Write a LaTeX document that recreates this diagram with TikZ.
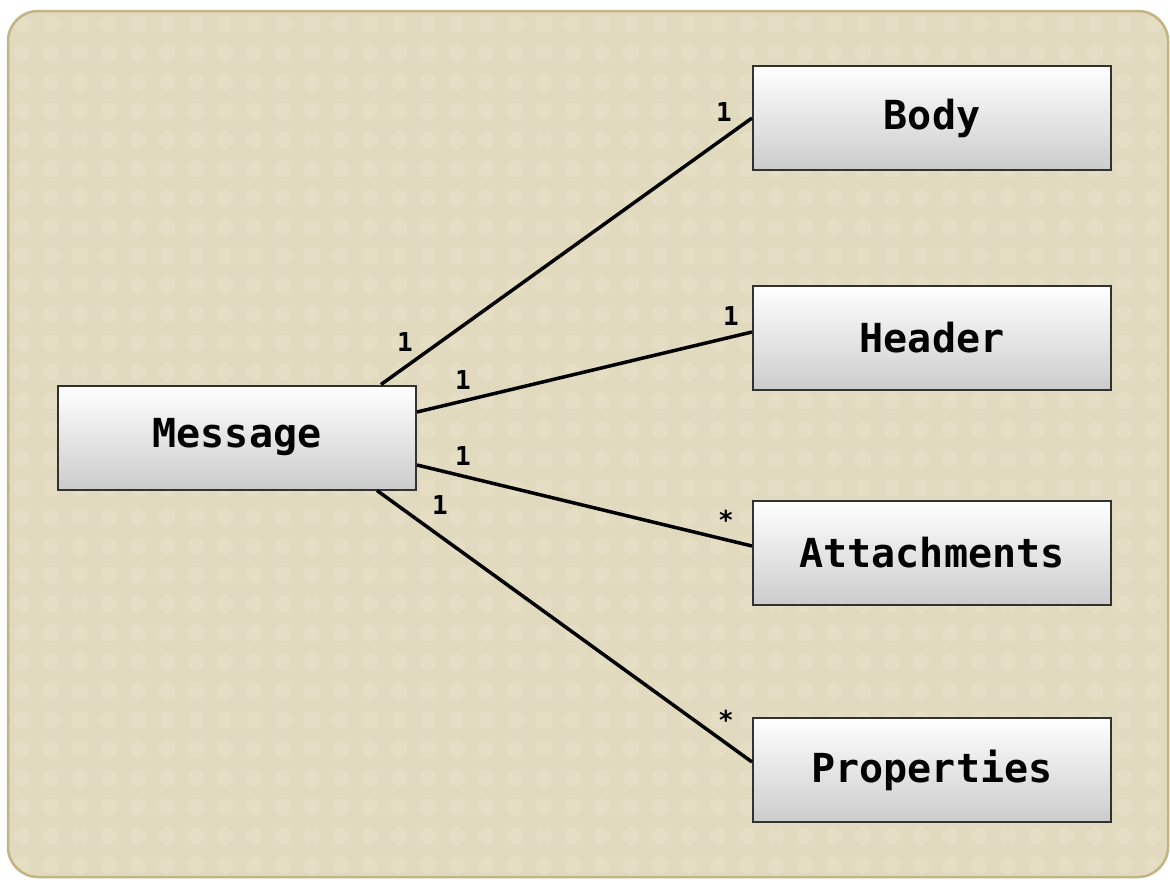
\documentclass[tikz,border=0pt]{standalone}
\usepackage{fontspec}
\setmonofont{DejaVu Sans Mono}
\usetikzlibrary{calc}
\definecolor{bgfill}{RGB}{226,218,190}
\definecolor{bgdot}{RGB}{229,222,197}
\definecolor{bgedge}{RGB}{196,180,132}
\definecolor{boxedge}{RGB}{50,50,50}
\definecolor{boxbot}{RGB}{204,204,204}
\tikzset{
  umlbox/.style={draw=boxedge, line width=2pt, top color=white, bottom color=boxbot,
    minimum width=358pt, minimum height=104pt, inner sep=0pt,
    font=\ttfamily\bfseries\fontsize{40}{42}\selectfont},
  assoc/.style={line width=3.5pt, draw=black},
  mult/.style={font=\ttfamily\bfseries\fontsize{26}{28}\selectfont, inner sep=0pt}
}
\begin{document}
\begin{tikzpicture}[x=1pt,y=-1pt]
\useasboundingbox (0,0) rectangle (1170,879);
\draw[bgedge, line width=2.5pt, fill=bgfill, rounded corners=30pt] (8,11) rectangle (1168,877);
\begin{scope}
\clip[rounded corners=30pt] (10,13) rectangle (1166,875);
\foreach \i in {0,...,40}{
  \foreach \j in {0,...,30}{
    \fill[bgdot] (22+\i*29, 24+\j*29) circle (8.5);
  }
}
\end{scope}
\node[umlbox] (msg) at (237,437.5) {Message};
\node[umlbox] (body) at (932,118) {Body};
\node[umlbox] (header) at (932,338) {Header};
\node[umlbox] (att) at (932,553) {Attachments};
\node[umlbox] (prop) at (932,770) {Properties};

\draw[assoc] ($(msg.north east)+(-36,0)$) -- (body.west);
\draw[assoc] ($(msg.east)+(0,-25.5)$) -- ($(header.west)+(0,-6)$);
\draw[assoc] ($(msg.east)+(0,27.5)$) -- ($(att.west)+(0,-7)$);
\draw[assoc] ($(msg.south east)+(-40,0)$) -- ($(prop.west)+(0,-8)$);

\node[mult] (m1) at (405,342) {1};
\node[mult] (b1) at (724,112) {1};
\node[mult] (m2) at (463,380) {1};
\node[mult] (h1) at (731,316) {1};
\node[mult] (m3) at (463,456) {1};
\node[mult] (a1) at (726,520) {*};
\node[mult] (m4) at (440,505) {1};
\node[mult] (p1) at (726,720) {*};
\end{tikzpicture}
\end{document}
